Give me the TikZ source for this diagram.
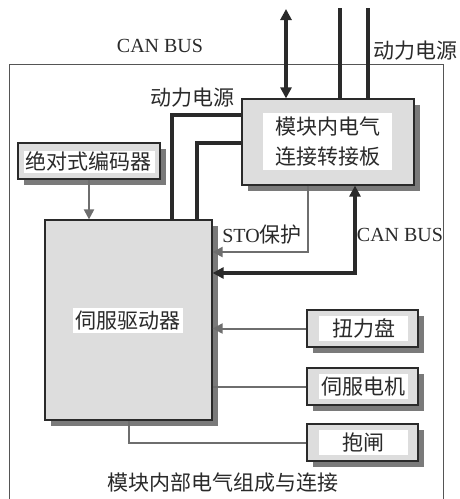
\documentclass[tikz,border=0pt]{standalone}
\usepackage{fontspec}
\setmainfont{Liberation Serif}
\newfontfamily\cjk{Noto Sans CJK SC}
\usetikzlibrary{shadows,arrows.meta}
\definecolor{boxgray}{HTML}{DDDDDD}
\definecolor{shadowgray}{HTML}{7A7A7A}
\definecolor{linegray}{HTML}{6E6E6E}
\definecolor{dark}{HTML}{2A2A2A}
\begin{document}
\begin{tikzpicture}[x=1pt,y=-1pt,
  box/.style={draw=dark, fill=boxgray, line width=1.2pt, inner sep=0pt,
    general shadow={fill=shadowgray, shadow xshift=6pt, shadow yshift=-6pt}},
  txt/.style={font=\cjk\fontsize{21}{30}\selectfont, text=dark},
  wtxt/.style={txt, fill=white, inner sep=2pt, align=center},
  lbl/.style={font=\fontsize{20}{24}\selectfont, text=dark, inner sep=0pt},
  cjklbl/.style={lbl, font=\cjk\fontsize{21}{24}\selectfont},
  power/.style={draw=dark, line width=3.5pt},
  bus/.style={draw=dark, line width=3.5pt,
    {Triangle[length=11pt,width=11pt]}-{Triangle[length=11pt,width=11pt]}},
  sig/.style={draw=linegray, line width=2pt},
  sigarrow/.style={sig, -{Triangle[length=10pt,width=10pt]}},
]
\useasboundingbox (0,0) rectangle (460,499);
% outer frame
\draw[draw=dark!80, line width=0.8pt, fill=white] (9,505) -- (9,64) -- (443,64) -- (443,505);

% boxes
\node[box, minimum width=172pt, minimum height=86pt] (board) at (328,142) {};
\node[wtxt, minimum width=129pt, minimum height=57pt] (boardtxt) at (327.5,141.5) {模块内电气\\连接转接板};

\node[box, minimum width=142pt, minimum height=36pt] (enc) at (89,161) {};
\node[wtxt, minimum width=131pt, minimum height=22pt, inner sep=0pt] (enctxt) at (89,161.5) {绝对式编码器};

\node[box, minimum width=167pt, minimum height=200pt] (servo) at (128.5,320) {};
\node[wtxt, minimum width=110pt, minimum height=25pt, inner sep=0pt] (servotxt) at (128,320.5) {伺服驱动器};

\node[box, minimum width=111pt, minimum height=37pt] (tq) at (362.5,328.5) {};
\node[wtxt, minimum width=89pt, minimum height=25pt, inner sep=0pt] (tqtxt) at (363.5,328.5) {扭力盘};

\node[box, minimum width=111pt, minimum height=37pt] (mot) at (362.5,386.5) {};
\node[wtxt, minimum width=89pt, minimum height=25pt, inner sep=0pt] (mottxt) at (363.5,386.5) {伺服电机};

\node[box, minimum width=111pt, minimum height=37pt] (brk) at (362.5,442.5) {};
\node[wtxt, minimum width=89pt, minimum height=25pt, inner sep=0pt] (brktxt) at (363.5,442.5) {抱闸};

% labels
\node[lbl] (canlbl) at (160,46) {CAN BUS};
\node[cjklbl] (pwrtop) at (415,51) {动力电源};
\node[cjklbl] (pwrmid) at (192,98) {动力电源};
\node[lbl] (stolbl) at (262,235) {STO{\cjk\fontsize{21}{24}\selectfont 保护}};
\node[lbl] (can2lbl) at (400,235) {CAN BUS};
\node[cjklbl] (title) at (223,483) {模块内部电气组成与连接};

% top connectors
\coordinate (tA) at (286,9);
\coordinate (tP1) at (340,8);
\coordinate (tP2) at (368,8);
\draw[bus] (tA) -- (tA |- board.north);
\draw[power] (tP1) -- (tP1 |- board.north);
\draw[power] (tP2) -- (tP2 |- board.north);

% power to servo
\draw[power] ([yshift=27pt]board.west) -| ([xshift=43.5pt]servo.north);
\draw[power] ([yshift=-1pt]board.west) -| ([xshift=68.5pt]servo.north);

% encoder to servo
\draw[sigarrow] (enc.south) -- (enc.south |- servo.north);

% STO
\draw[sigarrow] ([xshift=-20pt]board.south) |- ([yshift=68pt]servo.east);

% CAN bus to servo
\draw[bus] ([yshift=47pt]servo.east) -| ([xshift=27pt]board.south);

% peripherals
\draw[sigarrow] (tq.west) -- (tq.west -| servo.east);
\draw[sig] (mot.west) -- (mot.west -| servo.east);
\draw[sig] (servo.south) |- (brk.west);
\end{tikzpicture}
\end{document}
